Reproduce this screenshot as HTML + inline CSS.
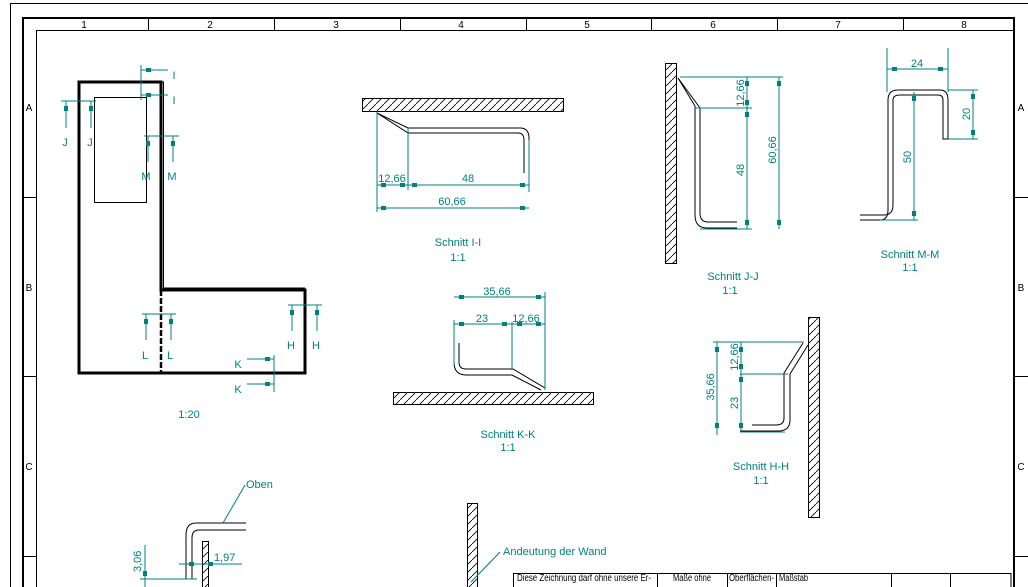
<!DOCTYPE html>
<html><head><meta charset="utf-8"><style>
html,body{margin:0;padding:0;background:#fff;width:1028px;height:587px;overflow:hidden;}
svg{display:block;overflow:hidden;}
text{font-family:"Liberation Sans",sans-serif;}
.t{fill:#008080;font-size:11px;}
.b{fill:#000;font-size:10px;}
.d{stroke:#008080;stroke-width:1;fill:none;}
.k{stroke:#000;fill:none;}
</style></head><body>
<svg width="1028" height="587" viewBox="0 0 1028 587" xmlns="http://www.w3.org/2000/svg">
<defs>
<pattern id="h" width="8" height="8" patternUnits="userSpaceOnUse">
<rect width="8" height="8" fill="#fff"/>
<line x1="0" y1="8" x2="8" y2="0" stroke="#000" stroke-width="0.8"/>
</pattern>
</defs>
<!-- frame -->
<path d="M10.5,587 V3.5 H1028" class="k"/>
<path d="M23,587 V18 H1014 V587" stroke="#000" stroke-width="2" fill="none"/>
<path d="M36.5,587 V30.5 H1014" class="k"/>
<g stroke="#000">
<line x1="148.5" y1="18" x2="148.5" y2="30"/><line x1="274.5" y1="18" x2="274.5" y2="30"/>
<line x1="400.5" y1="18" x2="400.5" y2="30"/><line x1="526.5" y1="18" x2="526.5" y2="30"/>
<line x1="651.5" y1="18" x2="651.5" y2="30"/><line x1="777.5" y1="18" x2="777.5" y2="30"/>
<line x1="903.5" y1="18" x2="903.5" y2="30"/>
<line x1="23" y1="197.5" x2="36" y2="197.5"/><line x1="23" y1="376.5" x2="36" y2="376.5"/><line x1="23" y1="556.5" x2="36" y2="556.5"/>
<line x1="1014" y1="197.5" x2="1028" y2="197.5"/><line x1="1014" y1="376.5" x2="1028" y2="376.5"/><line x1="1014" y1="556.5" x2="1028" y2="556.5"/>
</g>
<g class="b" font-size="11" text-anchor="middle">
<text x="84" y="28">1</text><text x="210" y="28">2</text><text x="336" y="28">3</text><text x="461" y="28">4</text>
<text x="587" y="28">5</text><text x="713" y="28">6</text><text x="838" y="28">7</text><text x="964" y="28">8</text>
<text x="29" y="111">A</text><text x="29" y="291">B</text><text x="29" y="470">C</text>
<text x="1021" y="111">A</text><text x="1021" y="291">B</text><text x="1021" y="470">C</text>
</g>

<!-- L shape -->
<g stroke="#000" fill="none">
<path d="M79,82 H161 V290 H305 V373 H79 Z" stroke-width="3"/>
<path d="M161,82 H163.5 V288 H305" stroke-width="1"/>
<line x1="161" y1="290" x2="161" y2="373" stroke-width="2.5" stroke-dasharray="6,2"/>
<rect x="94.5" y="97.5" width="52" height="105" stroke-width="1"/>
</g>
<g class="d">
<path d="M141,65 V100"/><path d="M141,70 H168 M141,95 H168"/>
<path d="M61,101 H96"/><path d="M66,101 V128 M91,101 V128"/>
<path d="M144,136 H179"/><path d="M148,136 V162 M173,136 V162"/>
<path d="M142,314 H176"/><path d="M146,314 V340 M171,314 V340"/>
<path d="M288,305 H322"/><path d="M292,305 V331 M317,305 V331"/>
<path d="M274,355 V392"/><path d="M247,359 H274 M247,384 H274"/>
</g>
<g fill="#008080">
<rect x="146" y="68" width="5" height="4"/><rect x="146" y="93" width="5" height="4"/>
<rect x="64" y="106" width="4" height="5"/><rect x="89" y="106" width="4" height="5"/>
<rect x="146" y="141" width="4" height="5"/><rect x="171" y="141" width="4" height="5"/>
<rect x="144" y="319" width="4" height="5"/><rect x="169" y="319" width="4" height="5"/>
<rect x="290" y="310" width="4" height="5"/><rect x="315" y="310" width="4" height="5"/>
<rect x="265" y="357" width="5" height="4"/><rect x="265" y="382" width="5" height="4"/>
</g>
<g class="t" text-anchor="middle">
<text x="174" y="79">I</text><text x="174" y="104">I</text>
<text x="65" y="146">J</text><text x="90" y="146">J</text>
<text x="146" y="180">M</text><text x="172" y="180">M</text>
<text x="145" y="359">L</text><text x="170" y="359">L</text>
<text x="291" y="349">H</text><text x="316" y="349">H</text>
<text x="238" y="368">K</text><text x="238" y="393">K</text>
<text x="189" y="418">1:20</text>
</g>

<!-- Schnitt I-I -->
<rect x="362.5" y="98.5" width="201" height="13" fill="url(#h)" stroke="#000"/>
<path d="M377,113 L408,128 H520 Q529,128 529,138 V188" class="k"/>
<path d="M377,113 L408,133 H518 Q524,133 524,140 V173" class="k"/>
<g class="d">
<path d="M377,112 V212 M408,128 V190 M529,140 V192"/>
<path d="M377,185 H529 M377,208 H529"/>
</g>
<g fill="#008080"><rect x="381" y="183" width="5" height="4"/><rect x="400" y="183" width="5" height="4"/><rect x="412" y="183" width="5" height="4"/><rect x="520" y="183" width="5" height="4"/><rect x="381" y="206" width="5" height="4"/><rect x="520" y="206" width="5" height="4"/></g>
<g class="t" text-anchor="middle">
<text x="392" y="182">12,66</text><text x="468" y="182">48</text><text x="452" y="205">60,66</text>
<text x="458" y="246">Schnitt I-I</text><text x="458" y="261">1:1</text>
</g>

<!-- Schnitt J-J -->
<rect x="665.5" y="63.5" width="11" height="200" fill="url(#h)" stroke="#000"/>
<path d="M678,78 L695,106 V215 Q695,228 707,228 H737" class="k"/>
<path d="M678,78 L700,108 V213 Q700,222 708,222 H737" class="k"/>
<g class="d">
<path d="M680,77 H783 M695,108 H752 M700,229 H752"/>
<path d="M747,77 V229 M779,77 V229"/>
</g>
<g fill="#008080"><rect x="745" y="81" width="4" height="5"/><rect x="745" y="100" width="4" height="5"/><rect x="745" y="112" width="4" height="5"/><rect x="745" y="220" width="4" height="5"/><rect x="777" y="81" width="4" height="5"/><rect x="777" y="220" width="4" height="5"/></g>
<g class="t" text-anchor="middle">
<text transform="translate(744,93) rotate(-90)">12,66</text>
<text transform="translate(744,170) rotate(-90)">48</text>
<text transform="translate(776,150) rotate(-90)">60,66</text>
<text x="733" y="280">Schnitt J-J</text><text x="730" y="294">1:1</text>
</g>

<!-- Schnitt M-M -->
<path d="M860,220 H880 Q888,220 888,210 V100 Q888,90 898,90 H940 Q948,90 948,100 V139" class="k"/>
<path d="M860,215 H884 Q893,215 893,205 V100 Q893,95 900,95 H938 Q943,95 943,100 V139 H948" class="k"/>
<g class="d">
<path d="M887,48 V92 M948,48 V92 M887,69 H948"/>
<path d="M948,90 H978 M948,139 H978 M973,90 V139"/>
<path d="M914,92 V220 M880,220 H918"/>
</g>
<g fill="#008080"><rect x="892" y="67" width="5" height="4"/><rect x="938" y="67" width="5" height="4"/><rect x="971" y="94" width="4" height="5"/><rect x="971" y="130" width="4" height="5"/><rect x="912" y="96" width="4" height="5"/><rect x="912" y="211" width="4" height="5"/></g>
<g class="t" text-anchor="middle">
<text x="917" y="67">24</text>
<text transform="translate(970,114) rotate(-90)">20</text>
<text transform="translate(911,157) rotate(-90)">50</text>
<text x="910" y="258">Schnitt M-M</text><text x="910" y="271">1:1</text>
</g>

<!-- Schnitt K-K -->
<rect x="393.5" y="392.5" width="200" height="12" fill="url(#h)" stroke="#000"/>
<path d="M454,343 V362 Q454,375 466,375 H512 L541,390" class="k"/>
<path d="M459,343 V362 Q459,369 466,369 H513 L545,388" class="k"/>
<g class="d">
<path d="M454,297 H545 M454,324 H545"/>
<path d="M454,320 V365 M512,322 V370 M545,292 V390"/>
</g>
<g fill="#008080"><rect x="459" y="322" width="5" height="4"/><rect x="502" y="322" width="5" height="4"/><rect x="517" y="322" width="5" height="4"/><rect x="536" y="322" width="5" height="4"/><rect x="459" y="295" width="5" height="4"/><rect x="536" y="295" width="5" height="4"/></g>
<g class="t" text-anchor="middle">
<text x="497" y="295">35,66</text><text x="482" y="322">23</text><text x="526" y="322">12,66</text>
<text x="508" y="438">Schnitt K-K</text><text x="508" y="451">1:1</text>
</g>

<!-- Schnitt H-H -->
<rect x="808.5" y="317.5" width="11" height="200" fill="url(#h)" stroke="#000"/>
<path d="M803,343 L784,373 V418 Q784,425 776,425 H752" class="k"/>
<path d="M808,345 L790,374 V420 Q790,431 778,431 H740" class="k"/>
<g class="d">
<path d="M713,342 H804 M740,374 H788 M740,432 H785"/>
<path d="M717,342 V435 M741,342 V432"/>
</g>
<g fill="#008080"><rect x="715" y="347" width="4" height="5"/><rect x="715" y="423" width="4" height="5"/><rect x="739" y="347" width="4" height="5"/><rect x="739" y="364" width="4" height="5"/><rect x="739" y="377" width="4" height="5"/><rect x="739" y="423" width="4" height="5"/></g>
<g class="t" text-anchor="middle">
<text transform="translate(714,387) rotate(-90)">35,66</text>
<text transform="translate(738,357) rotate(-90)">12,66</text>
<text transform="translate(738,403) rotate(-90)">23</text>
<text x="761" y="470">Schnitt H-H</text><text x="761" y="484">1:1</text>
</g>

<!-- detail bottom left -->
<path d="M246,523 H196 Q186,523 186,535 V579 H197" class="k"/>
<path d="M246,530 H199 Q192,530 192,538 V579" class="k"/>
<rect x="202.5" y="541.5" width="6" height="50" fill="url(#h)" stroke="#000"/>
<g class="d">
<path d="M145,545 V587 M140,579 H197 M179,564 H242"/>
<path d="M245,485 L223,523"/>
</g>
<g fill="#008080"><rect x="143" y="571" width="4" height="5"/><rect x="189" y="562" width="5" height="4"/><rect x="208" y="562" width="5" height="4"/></g>
<g class="t">
<text transform="translate(141,572) rotate(-90)">3,06</text>
<text x="214" y="561">1,97</text>
<text x="246" y="488">Oben</text>
</g>

<!-- wall hint -->
<rect x="467.5" y="503.5" width="10" height="90" fill="url(#h)" stroke="#000"/>
<path d="M500,552 L471,582" class="d"/>
<text x="503" y="555" class="t">Andeutung der Wand</text>

<!-- title block -->
<g stroke="#000" fill="none">
<path d="M513.5,587 V573.5 H1011"/>
<path d="M657.5,573 V587 M727.5,573 V587 M776.5,573 V587 M891.5,573 V587 M950.5,573 V587 M1011,573 V587"/>
</g>
<g class="b" font-size="6">
<text x="517" y="581" textLength="134" lengthAdjust="spacingAndGlyphs">Diese Zeichnung darf ohne unsere Er-</text>
<text x="673" y="581" textLength="38" lengthAdjust="spacingAndGlyphs">Maße ohne</text>
<text x="729" y="581" textLength="45" lengthAdjust="spacingAndGlyphs">Oberflächen-</text>
<text x="779" y="581" textLength="29" lengthAdjust="spacingAndGlyphs">Maßstab</text>
</g>
</svg>
</body></html>
